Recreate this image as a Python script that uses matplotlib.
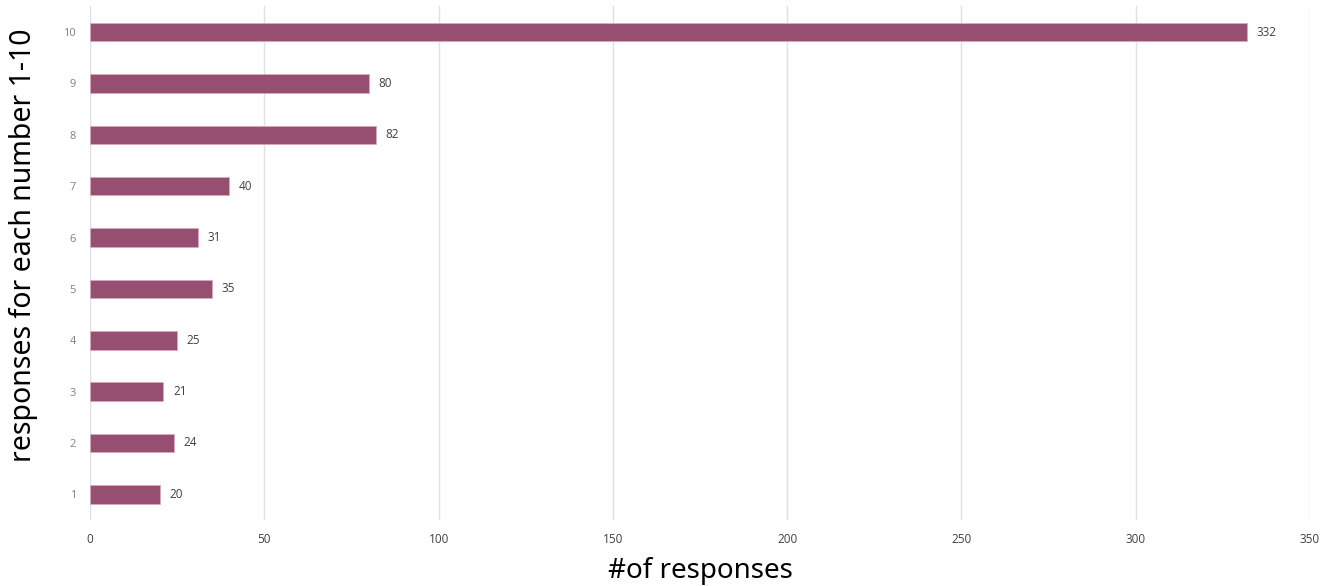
import matplotlib.pyplot as plt

numbers = [1, 2, 3, 4, 5, 6, 7, 8, 9, 10]
responses = [20, 24, 21, 25, 35, 31, 40, 82, 80, 332]
x_ticks = [0, 50, 100, 150, 200, 250, 300, 350]


def main():
    fig = plt.figure(figsize=(13.28, 5.86), dpi=100)
    ax = fig.add_axes([0.0678, 0.1126, 0.9186, 0.8764])

    bars = ax.barh(numbers, responses, height=0.36, color='#964f70',
                   edgecolor='#d9a9bd', linewidth=0.6, zorder=3)
    for b, v in zip(bars, responses):
        ax.annotate(str(v), (b.get_width(), b.get_y() + b.get_height() / 2),
                    xytext=(7, 0), textcoords='offset points',
                    ha='left', va='center', fontsize=8.5, color='#404040',
                    family='Open Sans')

    ax.set_xlim(0, 350)
    ax.set_ylim(0.5, 10.5)
    ax.set_xticks(x_ticks)
    ax.set_yticks(numbers)
    ax.tick_params(axis='x', length=0, pad=9, labelsize=8.5, labelcolor='#404040')
    ax.tick_params(axis='y', length=0, pad=10, labelsize=8, labelcolor='#808080')
    for lbl in ax.get_xticklabels() + ax.get_yticklabels():
        lbl.set_family('Open Sans')

    ax.grid(axis='x', color='#e0e0e0', linewidth=1, zorder=0)
    for s in ax.spines.values():
        s.set_visible(False)

    ax.set_xlabel('#of responses', fontsize=20, labelpad=8, family='Noto Sans')
    ax.set_ylabel('responses for each number 1-10', fontsize=20.5,
                  family='Noto Sans')
    ax.yaxis.set_label_coords(-0.043, 0.535)

    fig.savefig('out.png', dpi=100)


if __name__ == '__main__':
    main()
